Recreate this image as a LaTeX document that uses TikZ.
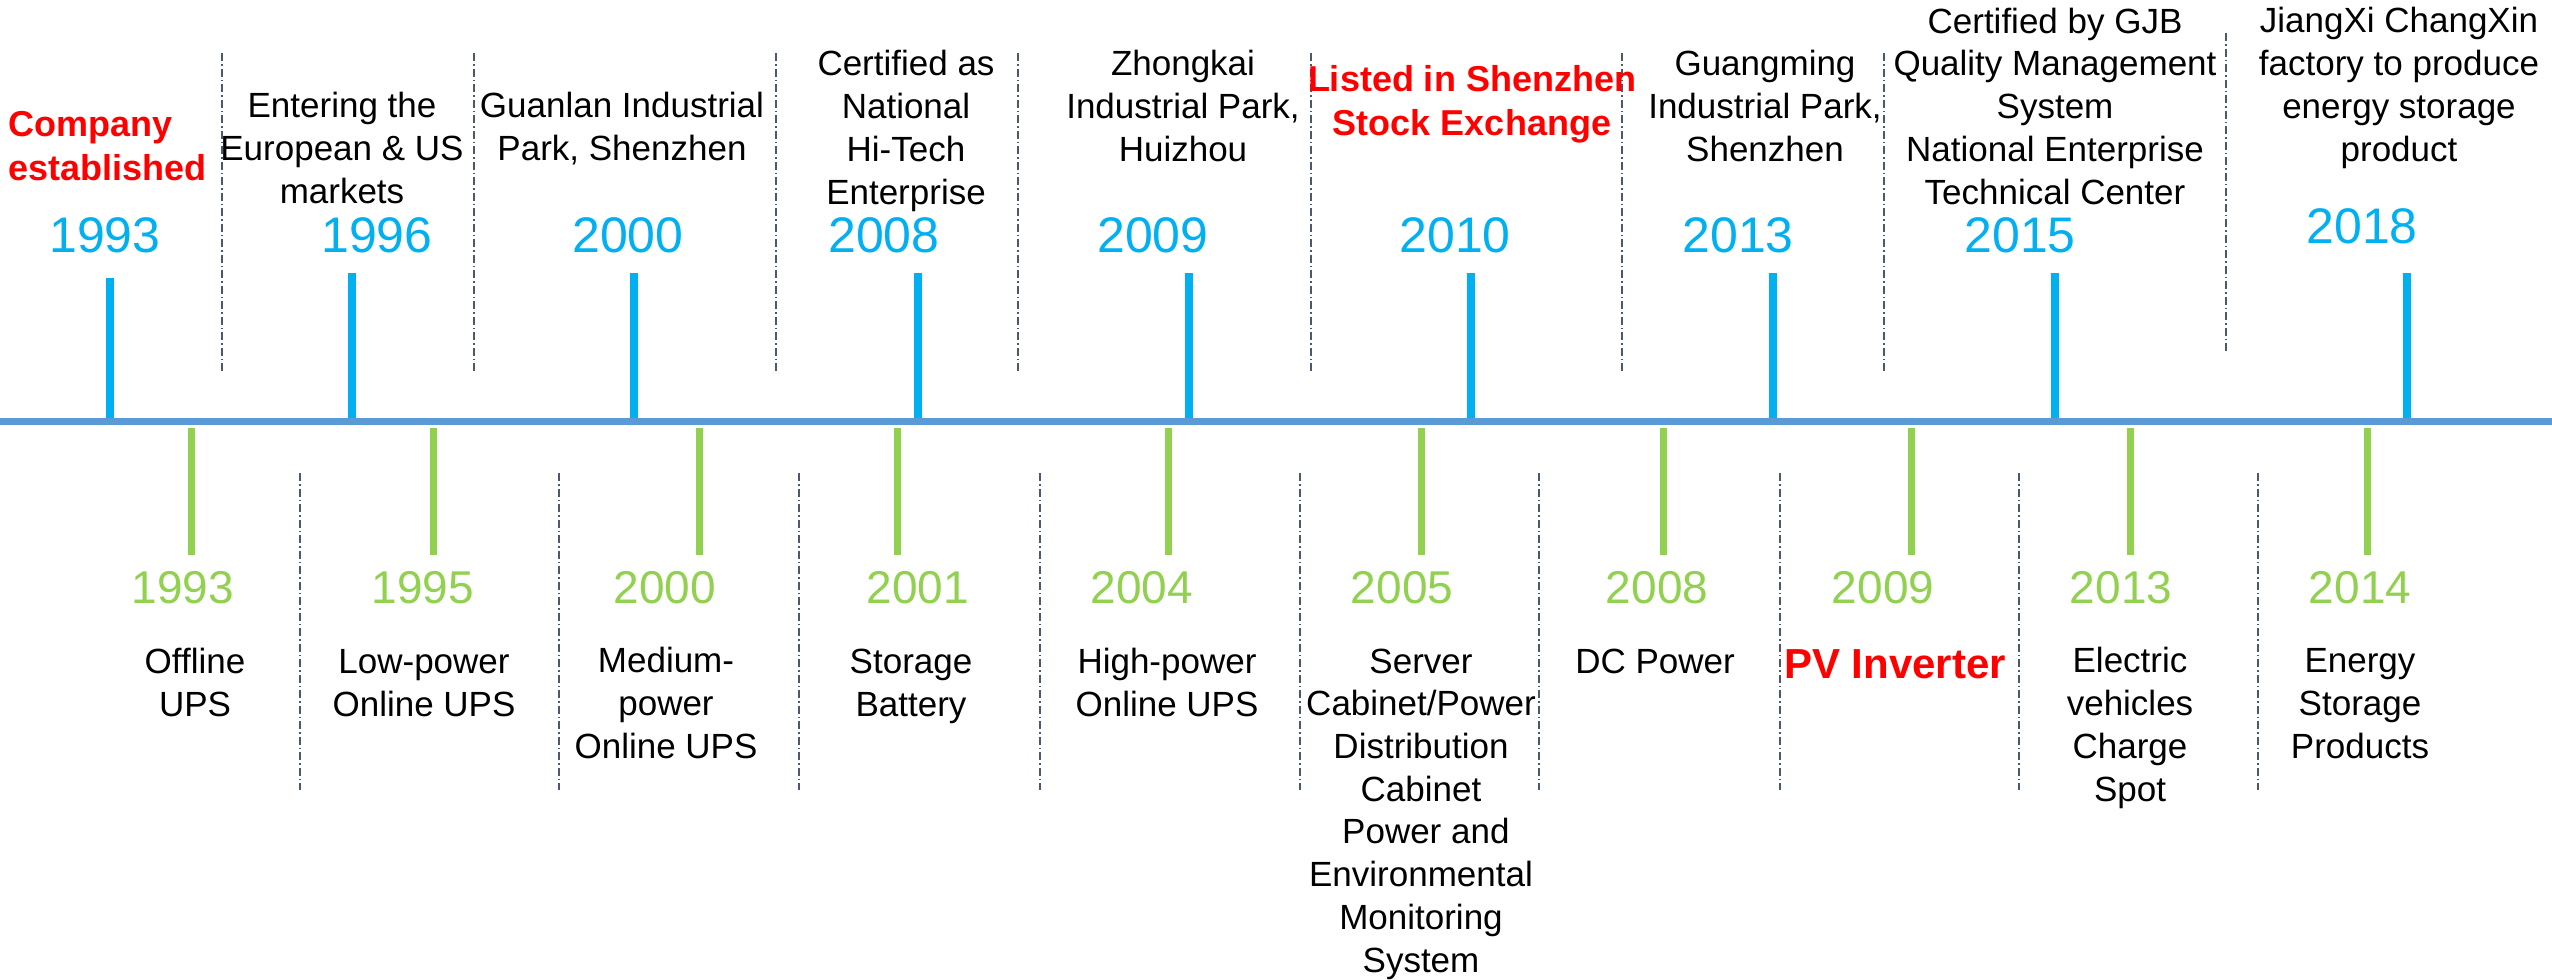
\documentclass[tikz,border=0pt]{standalone}
\usepackage{fontspec}
\setmainfont{Liberation Sans}
\definecolor{yrblue}{HTML}{00B0F0}
\definecolor{yrgreen}{HTML}{92D050}
\definecolor{axisblue}{HTML}{5B9BD5}
\definecolor{sepgray}{HTML}{4A5870}

\begin{document}
\begin{tikzpicture}[x=1pt,y=-1pt]
    \tikzstyle{event} = [align=center, anchor=base, inner sep=0pt, font=\fontsize{35}{42.7}\selectfont]
    \tikzstyle{milestone} = [event, text=red, font=\fontsize{36}{44}\selectfont\bfseries]
    \tikzstyle{upyear} = [anchor=base, inner sep=0pt, text=yrblue, font=\fontsize{50}{50}\selectfont]
    \tikzstyle{downyear} = [anchor=base, inner sep=0pt, text=yrgreen, font=\fontsize{46}{46}\selectfont]
    \tikzstyle{uptick} = [draw=yrblue, line width=7.5pt]
    \tikzstyle{downtick} = [draw=yrgreen, line width=7pt]
    \tikzstyle{divider} = [draw=sepgray, line width=1.5pt, dash pattern=on 8pt off 3pt on 1.5pt off 3pt]

    \useasboundingbox (0,0) rectangle (2552,980);

    % dividers between the columns
    \foreach \x in {222,474,776,1018,1311,1622,1884}
        \draw[divider] (\x,53) -- (\x,373);
    \draw[divider] (2226,33) -- (2226,352);
    \foreach \x in {300,559,799,1040,1300,1539,1780,2019,2258}
        \draw[divider] (\x,473) -- (\x,790);

    % upper years (company history)
    \foreach \i/\yr/\tx/\ty/\yx/\yb in {1/1993/110/278/105/252, 2/1996/352/273/377/252,
        3/2000/634/273/628/252, 4/2008/918/273/884/252, 5/2009/1189/273/1153/252,
        6/2010/1471/273/1455/252, 7/2013/1773/273/1738/252, 8/2015/2055/273/2020/252,
        9/2018/2407/273/2362/243} {
        \node[upyear] (up\i) at (\yx,\yb) {\yr};
        \draw[uptick] (\tx,\ty) -- (\tx,420);
    }

    % lower years (products)
    \foreach \i/\yr/\tx/\yx in {1/1993/191/183, 2/1995/433/423, 3/2000/699/665,
        4/2001/897/918, 5/2004/1168/1142, 6/2005/1421/1402, 7/2008/1663/1657,
        8/2009/1911/1883, 9/2013/2130/2121, 10/2014/2367/2360} {
        \node[downyear] (down\i) at (\yx,603) {\yr};
        \draw[downtick] (\tx,428) -- (\tx,555);
    }

    % timeline
    \coordinate (axisstart) at (0,421.5);
    \coordinate (axisend) at (2552,421.5);
    \draw[axisblue, line width=7pt] (axisstart) -- (axisend);

    % history (placed by the baseline of the last line)
    \node[milestone, align=left, anchor=base west] (founded) at (8,180) {Company\\established};
    \node[event] (market) at (342,203) {Entering the\\European \& US\\markets};
    \node[event] (guanlan) at (622,160) {Guanlan Industrial\\Park, Shenzhen};
    \node[event] (hitech) at (906,204) {Certified as\\National\\Hi-Tech\\Enterprise};
    \node[event] (zhongkai) at (1183,161) {Zhongkai\\Industrial Park,\\Huizhou};
    \node[milestone] (listed) at (1472,135) {Listed in Shenzhen\\Stock Exchange};
    \node[event] (guangming) at (1765,161) {Guangming\\Industrial Park,\\Shenzhen};
    \node[event] (gjb) at (2055,204) {Certified by GJB\\Quality Management\\System\\National Enterprise\\Technical Center};
    \node[event] (jiangxi) at (2399,161) {JiangXi ChangXin\\factory to produce\\energy storage\\product};

    % products
    \node[event] (offline) at (195,716) {Offline\\UPS};
    \node[event] (lowpower) at (424,716) {Low-power\\Online UPS};
    \node[event] (medpower) at (666,758) {Medium-\\power\\Online UPS};
    \node[event] (battery) at (911,716) {Storage\\Battery};
    \node[event] (highpower) at (1167,716) {High-power\\Online UPS};
    \node[event] (cabinet) at (1421,972) {Server\\Cabinet/Power\\Distribution\\Cabinet\\~Power and\\Environmental\\Monitoring\\System};
    \node[event] (dcpower) at (1655,673) {DC Power};
    \node[milestone, font=\fontsize{42}{50}\selectfont\bfseries] (pv) at (1895,678) {PV Inverter};
    \node[event] (charge) at (2130,801) {Electric\\vehicles\\Charge\\Spot};
    \node[event] (storage) at (2360,758) {Energy\\Storage\\Products};

\end{tikzpicture}
\end{document}
